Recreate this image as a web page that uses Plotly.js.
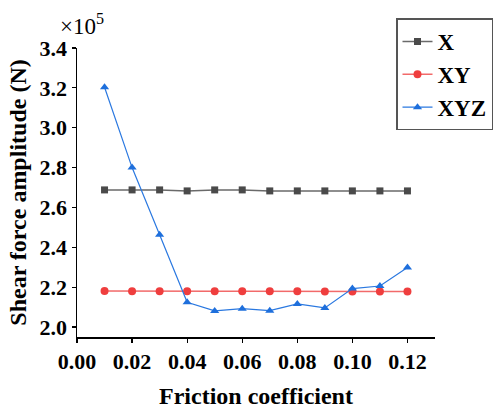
<!DOCTYPE html>
<html>
<head>
<meta charset="utf-8">
<script src="https://cdn.plot.ly/plotly-3.0.1.min.js"></script>
<style>html,body{margin:0;padding:0;background:#fff;}#chart{width:495px;height:410px;}</style>
</head>
<body>
<div id="chart"></div>
<script>
const friction = [0.01, 0.02, 0.03, 0.04, 0.05, 0.06, 0.07, 0.08, 0.09, 0.10, 0.11, 0.12];
const seriesX = [2.688, 2.688, 2.688, 2.683, 2.688, 2.688, 2.683, 2.683, 2.683, 2.683, 2.683, 2.683];
const seriesXY = [2.181, 2.180, 2.180, 2.180, 2.180, 2.180, 2.179, 2.179, 2.178, 2.178, 2.178, 2.178];
const seriesXYZ = [3.203, 2.800, 2.463, 2.124, 2.081, 2.092, 2.082, 2.116, 2.096, 2.193, 2.206, 2.299];
const xTicks = [0.00, 0.02, 0.04, 0.06, 0.08, 0.10, 0.12];
const xTickLabels = ['0.00', '0.02', '0.04', '0.06', '0.08', '0.10', '0.12'];
const yTicks = [2.0, 2.2, 2.4, 2.6, 2.8, 3.0, 3.2, 3.4];
const yTickLabels = ['2.0', '2.2', '2.4', '2.6', '2.8', '3.0', '3.2', '3.4'];
const names = ['X', 'XY', 'XYZ'];

const font = 'Liberation Serif, Times New Roman, serif';
const traces = [
  {x: friction, y: seriesX, name: '<b>' + names[0] + '</b>', mode: 'lines+markers',
   line: {color: '#6a6a6a', width: 1.5}, marker: {symbol: 'square', size: 7, color: '#4a4a4a'}},
  {x: friction, y: seriesXY, name: '<b>' + names[1] + '</b>', mode: 'lines+markers',
   line: {color: '#f26a6a', width: 1.5}, marker: {symbol: 'circle', size: 8, color: '#ef3e3e'}},
  {x: friction, y: seriesXYZ, name: '<b>' + names[2] + '</b>', mode: 'lines+markers',
   line: {color: '#2a78e0', width: 1.2}, marker: {symbol: 'triangle-up', size: 8, color: '#1e6fdc'}}
];
const layout = {
  width: 495, height: 410,
  margin: {l: 77, r: 60, t: 48, b: 73, autoexpand: false},
  paper_bgcolor: '#fff', plot_bgcolor: '#fff',
  font: {family: font, color: '#000'},
  showlegend: true,
  legend: {xref: 'container', yref: 'container', x: 0.8, xanchor: 'left', y: 0.955, yanchor: 'top',
    bordercolor: '#555', borderwidth: 1.5,
    bgcolor: '#fff', font: {family: font, size: 23, color: '#000'}, tracegroupgap: 0},
  xaxis: {range: [0, 0.13], tickvals: xTicks, ticktext: xTickLabels, showgrid: false, zeroline: false,
    showline: true, linecolor: '#000', linewidth: 1.5, ticks: 'outside', ticklen: 4, tickwidth: 1.2, tickcolor: '#000',
    tickfont: {family: font, size: 22, color: '#000', weight: 'bold'},
    title: {text: '<b>Friction coefficient</b>', font: {family: font, size: 24, color: '#000'}, standoff: 14}},
  yaxis: {range: [1.95, 3.4], tickvals: yTicks, ticktext: yTickLabels, showgrid: false, zeroline: false,
    showline: true, linecolor: '#000', linewidth: 1.5, ticks: 'outside', ticklen: 4, tickwidth: 1.2, tickcolor: '#000',
    tickfont: {family: font, size: 22, color: '#000', weight: 'bold'},
    title: {text: '<b>Shear force amplitude (N)</b>', font: {family: font, size: 24, color: '#000'}, standoff: 6}},
  annotations: [{xref: 'paper', yref: 'paper', x: 0.013, y: 1.025, xanchor: 'center', yanchor: 'bottom',
    text: '×10<sup>5</sup>', showarrow: false, font: {family: font, size: 23, color: '#000'}}]
};
Plotly.newPlot('chart', traces, layout, {displayModeBar: false, staticPlot: true});
</script>
</body>
</html>
